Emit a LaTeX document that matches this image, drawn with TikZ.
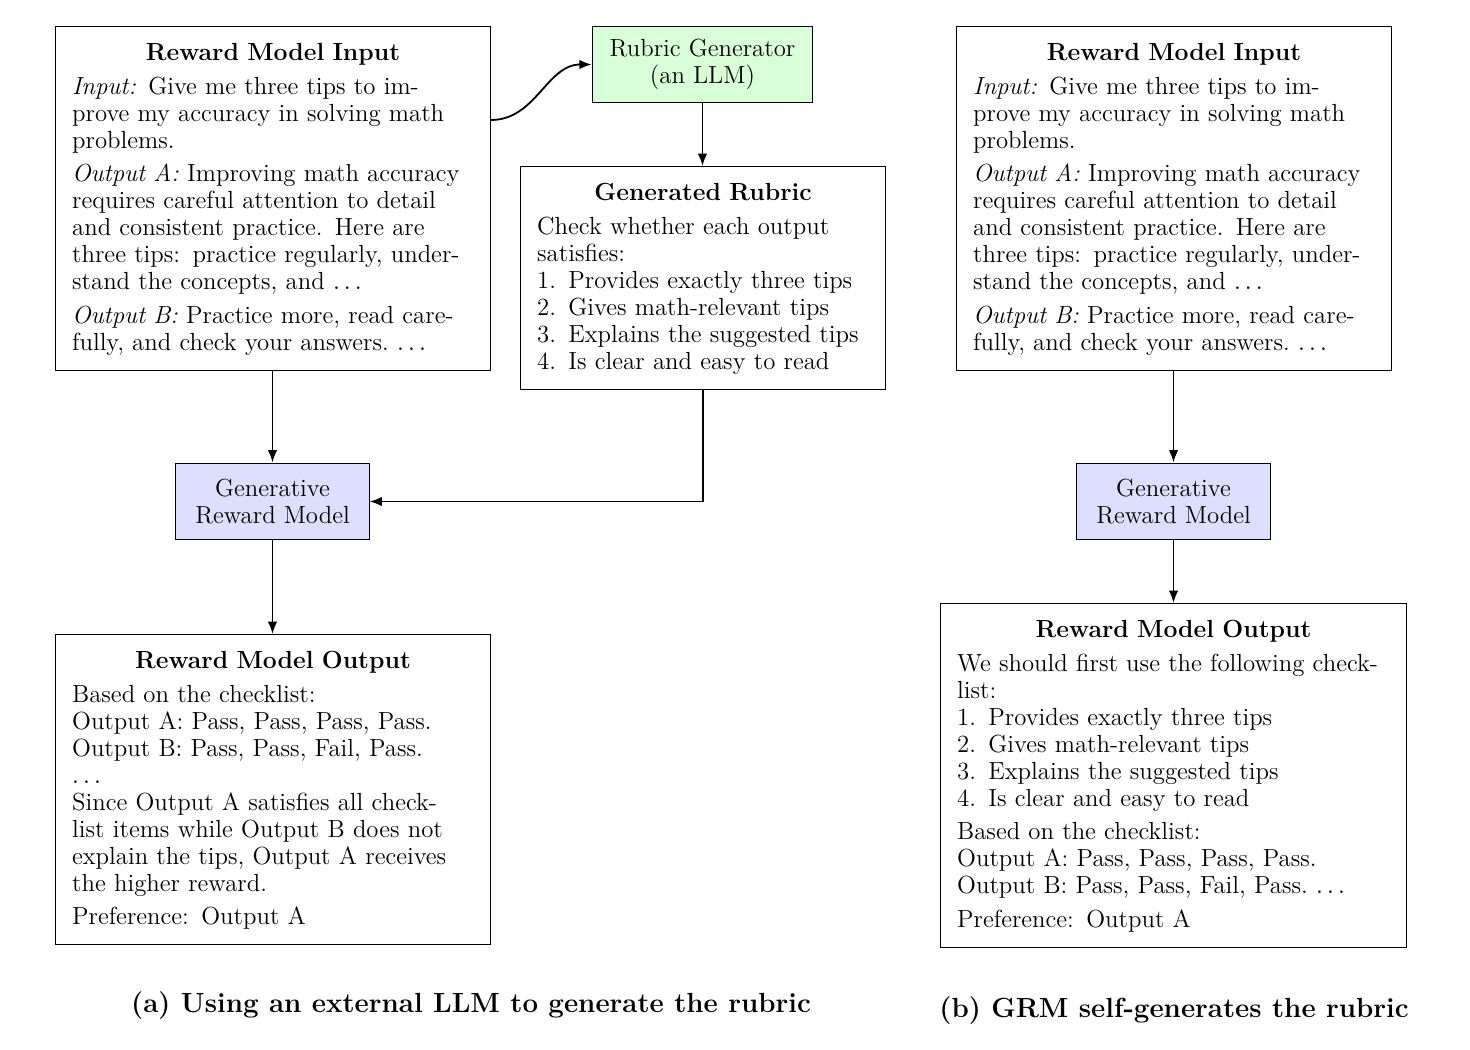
\documentclass[tikz,border=0pt]{standalone}
\usetikzlibrary{arrows.meta,calc}
\newcommand{\bodyfont}{\fontsize{11pt}{12pt}\selectfont}
\newcommand{\ddd}{$\dots$}
\newcommand{\boxtitle}[1]{{\centering\bfseries\rule{0pt}{8.2pt}#1\par}\smallskip}
\begin{document}
\begin{tikzpicture}[x=0.4444pt,y=-0.4444pt,
  txtbox/.style={draw, line width=0.45pt, fill=white, anchor=north west,
    inner xsep=7.4pt, inner ysep=6.8pt, align=left, font=\bodyfont},
  smallbox/.style={draw, line width=0.45pt, align=center, inner sep=0pt, font=\bodyfont},
  arr/.style={-{Latex[length=5.5pt,width=4.2pt]}, line width=0.8pt},
  capt/.style={font=\fontsize{12.3pt}{14pt}\selectfont\bfseries, anchor=base}]
\useasboundingbox (0,0) rectangle (1470,1050);

% ---------- (a) ----------
\node[txtbox, text width=178.5pt] (inA) at (55,26) {%
\boxtitle{Reward Model Input}
\emph{Input:} Give me three tips to im-\linebreak prove my accuracy in solving math problems.\par\smallskip
\emph{Output A:} Improving math accuracy requires careful attention to detail and consistent practice. Here are three tips: practice regularly, understand the concepts, and \ddd\par\smallskip
\emph{Output B:} Practice more, read carefully, and check your answers.~\ddd\par};

\node[smallbox, fill=green!15, minimum width=98pt, minimum height=34.2pt] (gen) at (702.5,64.5)
  {Rubric Generator\\(an LLM)};

\node[txtbox, text width=147.5pt] (rub) at (520,166) {%
\boxtitle{Generated Rubric}
Check whether each output satisfies:\\
1. Provides exactly three tips\\
2. Gives math-relevant tips\\
3. Explains the suggested tips\\
4. Is clear and easy to read\par};

\node[smallbox, fill=blue!13, minimum width=85.8pt, minimum height=34.2pt] (grmA) at (272.5,501.5)
  {Generative\\Reward Model};

\node[txtbox, text width=178.5pt] (outA) at (55,634) {%
\boxtitle{Reward Model Output}
Based on the checklist:\\
Output A: Pass, Pass, Pass, Pass.\\
Output B: Pass, Pass, Fail, Pass.\\
\ddd\\
Since Output A satisfies all check\-list items while Output B does not explain the tips, Output A receives the higher reward.\par\smallskip
Preference: Output A\par};

\draw[arr] ($(inA.north east)+(0,94)$) to[out=0,in=180] (gen.west);
\draw[arr] (gen.south) -- (rub.north -| gen.south);
\draw[arr] (inA.south -| grmA.north) -- (grmA.north);
\draw[arr] (rub.south) |- (grmA.east);
\draw[arr] (grmA.south) -- (outA.north -| grmA.south);

\node[capt] (capA) at (471,1012) {(a) Using an external LLM to generate the rubric};

% ---------- (b) ----------
\node[txtbox, text width=178.5pt] (inB) at (956,26) {%
\boxtitle{Reward Model Input}
\emph{Input:} Give me three tips to im-\linebreak prove my accuracy in solving math problems.\par\smallskip
\emph{Output A:} Improving math accuracy requires careful attention to detail and consistent practice. Here are three tips: practice regularly, understand the concepts, and \ddd\par\smallskip
\emph{Output B:} Practice more, read carefully, and check your answers.~\ddd\par};

\node[smallbox, fill=blue!13, minimum width=85.8pt, minimum height=34.2pt] (grmB) at (1173.5,501.5)
  {Generative\\Reward Model};

\node[txtbox, text width=192.3pt] (outB) at (940,603) {%
\boxtitle{Reward Model Output}
We should first use the following check\-list:\\
1. Provides exactly three tips\\
2. Gives math-relevant tips\\
3. Explains the suggested tips\\
4. Is clear and easy to read\par\smallskip
Based on the checklist:\\
Output A: Pass, Pass, Pass, Pass.\\
Output B: Pass, Pass, Fail, Pass.~\ddd\par\smallskip
Preference: Output A\par};

\draw[arr] (inB.south -| grmB.north) -- (grmB.north);
\draw[arr] (grmB.south) -- (outB.north -| grmB.south);

\node[capt] (capB) at (1174,1017) {(b) GRM self-generates the rubric};
\end{tikzpicture}
\end{document}
